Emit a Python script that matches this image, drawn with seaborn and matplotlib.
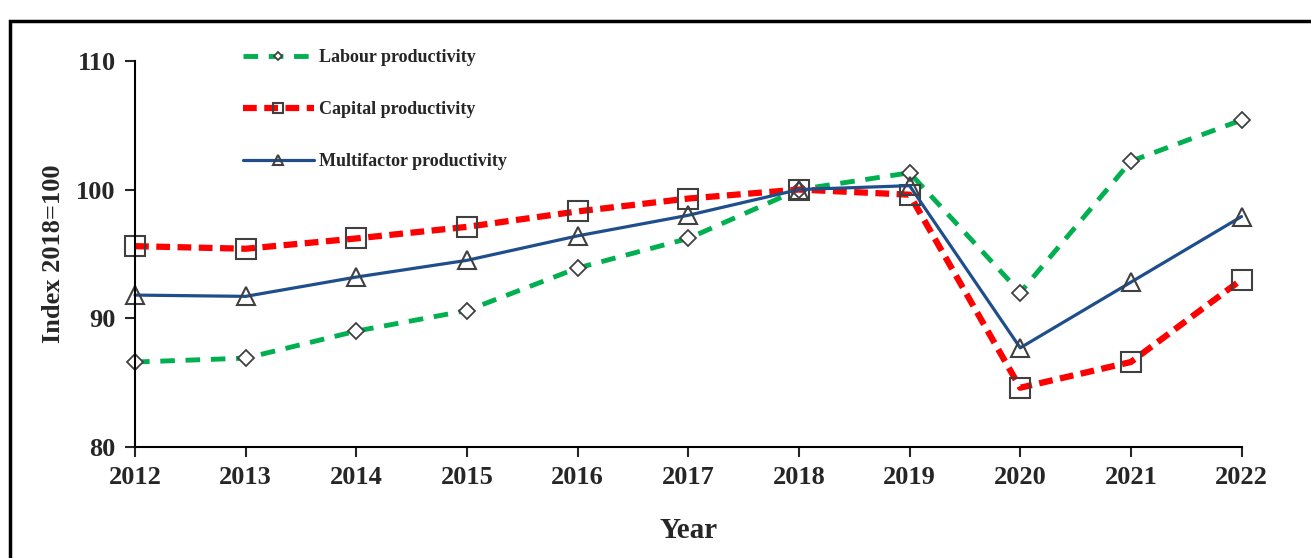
import matplotlib
matplotlib.use("Agg")
import matplotlib.pyplot as plt
import seaborn as sns
from matplotlib.patches import Rectangle

years = [2012, 2013, 2014, 2015, 2016, 2017, 2018, 2019, 2020, 2021, 2022]
labour = [86.6, 86.9, 89.0, 90.6, 93.9, 96.2, 100.0, 101.3, 92.0, 102.2, 105.4]
capital = [95.6, 95.4, 96.2, 97.1, 98.3, 99.3, 100.0, 99.6, 84.6, 86.6, 93.0]
multifactor = [91.8, 91.7, 93.2, 94.5, 96.4, 98.0, 100.0, 100.3, 87.7, 92.8, 97.9]

sns.set_style("white")
plt.rcParams['font.family'] = ['Liberation Serif', 'DejaVu Serif']
plt.rcParams['font.weight'] = 'bold'

fig = plt.figure(figsize=(13.11, 5.58), dpi=100)
ax = fig.add_axes([0.103, 0.199, 0.844, 0.692])

edge = '#404040'
sns.lineplot(x=years, y=labour, ax=ax, color='#00B050', linestyle=(0, (3, 2.2)),
             linewidth=3.5, marker='D', markersize=8, markerfacecolor='white',
             markeredgecolor=edge, markeredgewidth=1.3, label='Labour productivity',
             clip_on=False)
sns.lineplot(x=years, y=capital, ax=ax, color='#FF0000', linestyle=(0, (2.2, 1.2)),
             linewidth=4.5, marker='s', markersize=14, markerfacecolor='none',
             markeredgecolor=edge, markeredgewidth=1.5, label='Capital productivity',
             clip_on=False)
sns.lineplot(x=years, y=multifactor, ax=ax, color='#1F4E8C', linewidth=2.3,
             marker='^', markersize=13, markerfacecolor='none',
             markeredgecolor=edge, markeredgewidth=1.5, label='Multifactor productivity',
             clip_on=False)

ax.set_xlim(2012, 2022)
ax.set_ylim(80, 110)
ax.set_xticks(years)
ax.set_yticks([80, 90, 100, 110])
ax.tick_params(axis='both', direction='out', length=7, width=1.5, labelsize=19,
               left=True, bottom=True, pad=7)
for lbl in ax.get_xticklabels() + ax.get_yticklabels():
    lbl.set_fontweight('bold')
for s in ['top', 'right']:
    ax.spines[s].set_visible(False)
for s in ['left', 'bottom']:
    ax.spines[s].set_linewidth(1.5)
    ax.spines[s].set_color('black')

ax.set_xlabel('Year', fontsize=21, fontweight='bold', labelpad=20)
ax.set_ylabel('Index 2018=100', fontsize=19, fontweight='bold', labelpad=8)

leg = ax.legend(loc='upper left', bbox_to_anchor=(0.083, 1.073), frameon=False,
                handlelength=3.9, handletextpad=0.33, labelspacing=1.95,
                markerscale=0.5, prop={'weight': 'bold', 'size': 13})

fig.add_artist(Rectangle((0.008, -0.05), 1.05, 1.013, transform=fig.transFigure,
                         fill=False, edgecolor='black', linewidth=2.5))

fig.savefig('out.png', dpi=100)
